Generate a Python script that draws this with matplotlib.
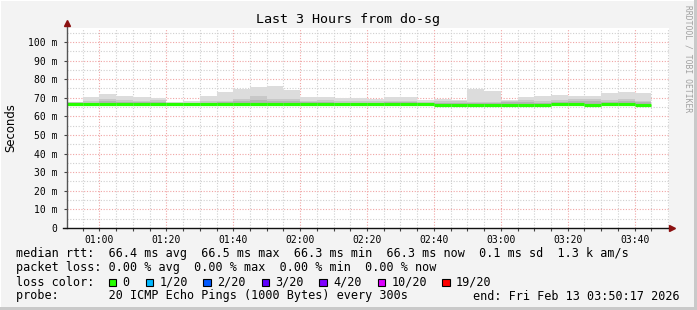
import numpy as np
import matplotlib
matplotlib.use('Agg')
import matplotlib.pyplot as plt
from matplotlib.patches import Rectangle

W, H = 697, 310

# 5 minute bins, minutes after midnight (00:50 .. 03:40)
bin_start = np.arange(50, 225, 5)
# smoke: top of outer band, inner band and median rtt (ms)
rtt_max = [67.9, 70.2, 72.0, 71.0, 70.4, 70.0, 67.9, 68.3, 71.0, 73.3, 74.9, 75.8,
           76.3, 74.4, 70.4, 70.4, 70.0, 70.0, 69.4, 70.4, 70.4, 68.8, 69.4, 68.8,
           74.9, 73.8, 68.8, 70.4, 71.0, 71.5, 71.0, 71.0, 72.6, 73.1, 72.6]
rtt_mid = [67.5, 68.3, 69.2, 68.8, 68.5, 68.8, 67.3, 67.3, 68.1, 68.5, 69.5, 71.0,
           69.2, 69.5, 68.5, 68.8, 68.5, 68.1, 68.1, 68.5, 68.5, 67.7, 68.1, 68.1,
           67.7, 67.7, 68.5, 68.8, 68.1, 68.8, 69.2, 69.2, 68.8, 69.5, 68.5]
rtt_core = [67.0, 67.4, 68.0, 67.8, 67.5, 67.6, 67.0, 67.0, 67.3, 67.6, 68.0, 68.6,
            68.2, 68.0, 67.5, 67.6, 67.4, 67.3, 67.3, 67.8, 67.9, 67.2, 67.4, 67.4,
            67.2, 67.2, 67.6, 67.8, 67.4, 67.8, 68.0, 68.0, 67.8, 68.2, 67.6]
rtt_median = [66.5, 66.5, 66.5, 66.5, 66.5, 66.5, 66.5, 66.5, 66.5, 66.5, 66.5, 66.5,
              66.5, 66.5, 66.5, 66.5, 66.5, 66.5, 66.5, 66.5, 66.5, 66.5, 66.3, 66.3,
              66.3, 66.3, 66.3, 66.3, 66.3, 66.4, 66.4, 66.3, 66.4, 66.4, 66.3]

x_ticks = [60, 80, 100, 120, 140, 160, 180, 200, 220]
x_labels = ['01:00', '01:20', '01:40', '02:00', '02:20', '02:40', '03:00', '03:20', '03:40']
y_ticks = [0, 10, 20, 30, 40, 50, 60, 70, 80, 90, 100]
y_labels = ['0'] + ['%d m' % v for v in y_ticks[1:]]

loss_labels = ['0', '1/20', '2/20', '3/20', '4/20', '10/20', '19/20']
loss_colors = ['#26ff00', '#00b8ff', '#0059ff', '#5e00ff', '#7e00ff', '#dd00ff', '#ff0000']

MONO = 'DejaVu Sans Mono'

fig = plt.figure(figsize=(W / 100, H / 100), dpi=100, facecolor='#f3f3f3')

def fx(px):
    return px / W

def fy(py):
    return 1 - py / H

def frame(x, y, w, h, col, z=-1, edge=None):
    # x, y, w, h in pixels, y from top
    fig.patches.append(Rectangle((fx(x), fy(y + h)), fx(w), h / H, transform=fig.transFigure,
                                 facecolor=col, edgecolor=edge or col,
                                 lw=0.8 if edge else 0, zorder=z))

frame(0, 0, W, 1, 'white')
frame(0, 0, 1, H, 'white')
frame(W - 3, 0, 3, H, '#c9c9c9')
frame(0, H - 3, W, 3, '#c9c9c9')

left, right, top, bottom = 67, 669, 28, 228
ax = fig.add_axes([fx(left), fy(bottom), fx(right - left), fy(top) - fy(bottom)])
ax.set_facecolor('white')
x0 = 50 + 17 / 60
ax.set_xlim(x0, x0 + 180)
ax.set_ylim(0, 107.5)
for s in ax.spines.values():
    s.set_visible(False)

# grid
for v in np.arange(55, 235, 5):
    if v % 20 != 0:
        ax.axvline(v, color='#cfcfcf', lw=0.8, ls=(0, (1, 1.5)), zorder=0)
for v in np.arange(5, 110, 5):
    if v % 10 != 0:
        ax.axhline(v, color='#cfcfcf', lw=0.8, ls=(0, (1, 1.5)), zorder=0)
for v in x_ticks:
    ax.axvline(v, color='#f0a4a4', lw=0.8, ls=(0, (1, 1.5)), zorder=0.5)
for v in y_ticks[1:]:
    ax.axhline(v, color='#f0a4a4', lw=0.8, ls=(0, (1, 1.5)), zorder=0.5)

# smoke
low = np.array(rtt_median) - 0.4
ax.bar(bin_start, np.array(rtt_max) - low, bottom=low, width=5, align='edge',
       color='#dcdcdc', lw=0, zorder=2)
ax.bar(bin_start, np.array(rtt_mid) - low, bottom=low, width=5, align='edge',
       color='#c8c8c8', lw=0, zorder=2.1)
ax.bar(bin_start, np.array(rtt_core) - low, bottom=low, width=5, align='edge',
       color='#b4b4b4', lw=0, zorder=2.2)
ax.hlines(rtt_median, bin_start, bin_start + 5, color=loss_colors[0], lw=2.3, zorder=3)

# axes lines and arrows
ax.plot([x0, x0], [0, 110], color='#555555', lw=1, clip_on=False, zorder=4)
ax.plot([x0 - 1.2, x0 + 180.3], [0, 0], color='#111111', lw=1, clip_on=False, zorder=4)
ax.plot([x0], [110.3], marker='^', color='#8b1010', ms=4.5, clip_on=False, zorder=5)
ax.plot([x0 + 180.8], [0], marker='>', color='#8b1010', ms=4.5, clip_on=False, zorder=5)

ax.set_xticks(x_ticks)
ax.set_xticklabels(x_labels, fontfamily=MONO, fontsize=7)
ax.set_xticks(np.arange(55, 230, 5), minor=True)
ax.set_yticks(y_ticks)
ax.set_yticklabels(y_labels, fontfamily=MONO, fontsize=7)
ax.tick_params(axis='x', which='both', length=2, width=0.8, color='#444444', pad=3)
ax.tick_params(axis='y', which='both', length=2, width=0.8, color='#444444', pad=5)

# title, labels
fig.text(fx(348.5), fy(19.5), 'Last 3 Hours from do-sg', ha='center', va='center',
         fontfamily=MONO, fontsize=9.6)
fig.text(fx(11), fy(128), 'Seconds', rotation=90, ha='center', va='center',
         fontfamily='DejaVu Sans', fontsize=8.4)
fig.text(fx(688), fy(5), 'RRDTOOL / TOBI OETIKER', rotation=270, ha='center', va='top',
         fontfamily=MONO, fontsize=5.8, color='#a0a0a0')

# legend lines
fs = 8.5
lines = [
    (254, 'median rtt:  66.4 ms avg  66.5 ms max  66.3 ms min  66.3 ms now  0.1 ms sd  1.3 k am/s'),
    (268, 'packet loss: 0.00 % avg  0.00 % max  0.00 % min  0.00 % now'),
    (296, 'probe:       20 ICMP Echo Pings (1000 Bytes) every 300s'),
]
for y, t in lines:
    fig.text(fx(16), fy(y), t, ha='left', va='center', fontfamily=MONO, fontsize=fs)
fig.text(fx(680), fy(296), 'end: Fri Feb 13 03:50:17 2026', ha='right', va='center',
         fontfamily=MONO, fontsize=fs)

fig.text(fx(16), fy(282), 'loss color:', ha='left', va='center', fontfamily=MONO, fontsize=fs)
box_x = [108.5, 145.5, 203, 261.5, 319, 377.5, 442]
for bx, lab, col in zip(box_x, loss_labels, loss_colors):
    frame(bx, 278.5, 7.5, 7.5, col, z=2, edge='black')
    fig.text(fx(bx + 14), fy(282), lab, ha='left', va='center', fontfamily=MONO, fontsize=fs)

fig.savefig('out.png', dpi=100, facecolor=fig.get_facecolor())
